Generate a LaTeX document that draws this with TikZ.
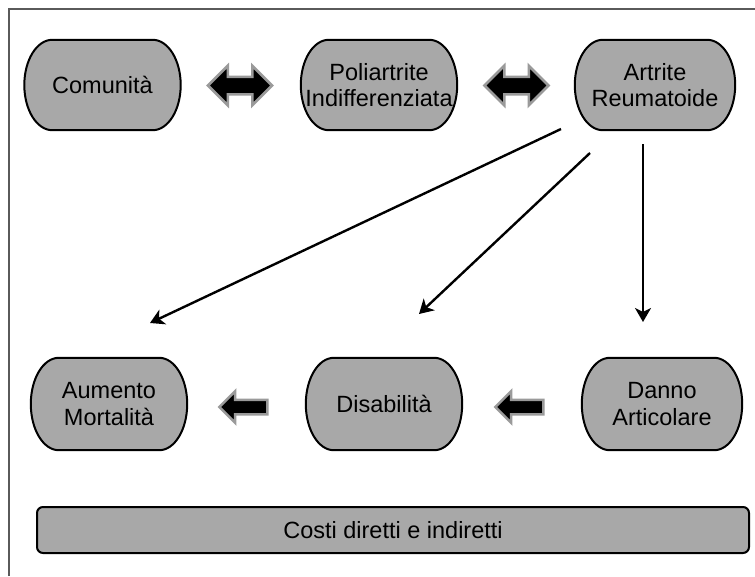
\documentclass[tikz,border=0pt]{standalone}
\usepackage{fontspec}
\setmainfont{Liberation Sans}
\usetikzlibrary{arrows.meta}
\usetikzlibrary{shapes.arrows}
\usetikzlibrary{calc}

\definecolor{boxgray}{HTML}{A8A8A8}
\definecolor{framegray}{HTML}{5A5A5A}
\definecolor{arrowrim}{HTML}{9A9A9A}

\tikzset{
  stage/.style={minimum width=156pt, minimum height=90pt, inner sep=0pt, align=center,
    font=\fontsize{23.5}{26.5}\selectfont},
  stagerim/.style={draw=black, line width=2pt, fill=boxgray},
  costbar/.style={draw=black, line width=2pt, fill=boxgray, rounded corners=6pt,
    minimum width=712pt, minimum height=46pt, inner sep=0pt,
    font=\fontsize{23.5}{26.5}\selectfont},
  twoway/.style={double arrow, draw=arrowrim, fill=black, line width=2.5pt,
    inner sep=0pt, inner ysep=7.5pt, minimum height=64pt,
    double arrow head extend=11pt},
  oneway/.style={single arrow, shape border rotate=180, draw=arrowrim, fill=black,
    line width=2.5pt, inner sep=0pt, inner ysep=6pt, minimum height=48pt,
    single arrow head extend=8.5pt},
  thin/.style={line width=2.4pt, -{Stealth[length=14pt, width=16pt, inset=4pt]}}
}

% stadium outline with elliptic ends round a node
\newcommand{\rim}[1]{%
  \path[stagerim] let \p1=(#1.north west), \p2=(#1.south east),
    \n1={abs(\y1-\y2)/2} in
    (\x1+28pt,\y1) -- (\x2-28pt,\y1)
    arc[start angle=90, end angle=-90, x radius=28pt, y radius=\n1]
    -- (\x1+28pt,\y2)
    arc[start angle=-90, end angle=-270, x radius=28pt, y radius=\n1] -- cycle;}

\begin{document}
\begin{tikzpicture}[x=1pt, y=-1pt]
\useasboundingbox (0,0) rectangle (755,576);
\fill[white] (0,0) rectangle (755,576);
\draw[framegray, line width=1.2pt] (9,576) -- (9,9) -- (755,9);

\coordinate (C1) at (102.5,85);
\coordinate (C2) at (379,85);
\coordinate (C3) at (655,85);
\coordinate (C4) at (109,404);
\coordinate (C5) at (384,404);
\coordinate (C6) at (662,404);

\node[stage] (com) at (C1) {};
\node[stage] (poli) at (C2) {};
\node[stage, minimum width=160pt] (ar) at (C3) {};
\node[stage, minimum height=92pt] (aum) at (C4) {};
\node[stage, minimum height=92pt] (dis) at (C5) {};
\node[stage, minimum width=160pt, minimum height=92pt] (dan) at (C6) {};

\foreach \s in {com,poli,ar,aum,dis,dan} {\rim{\s}}

\node[stage] at (com) {Comunità};
\node[stage] at (poli) {Poliartrite\\Indifferenziata};
\node[stage] at (ar) {Artrite\\Reumatoide};
\node[stage] at (aum) {Aumento\\Mortalità};
\node[stage] at (dis) {Disabilità};
\node[stage] at (dan) {Danno\\Articolare};
\node[costbar] (costi) at (393,530) {Costi diretti e indiretti};

% block arrows
\node[twoway] (w1) at (240,85.5) {};
\node[twoway] (w2) at (516.5,85.5) {};
\node[oneway] (o1) at (247,407) {};
\node[oneway] (o2) at (523,407) {};

% thin arrows
\coordinate (s1) at (561,129);
\coordinate (s2) at (590,153);
\coordinate (s3) at (643,144);
\coordinate (t1) at (150,323);
\coordinate (t2) at (419,314);
\coordinate (t3) at (643,322);
\draw[thin] (s1) -- (t1);
\draw[thin] (s2) -- (t2);
\draw[thin] (s3) -- (t3);
\end{tikzpicture}
\end{document}
